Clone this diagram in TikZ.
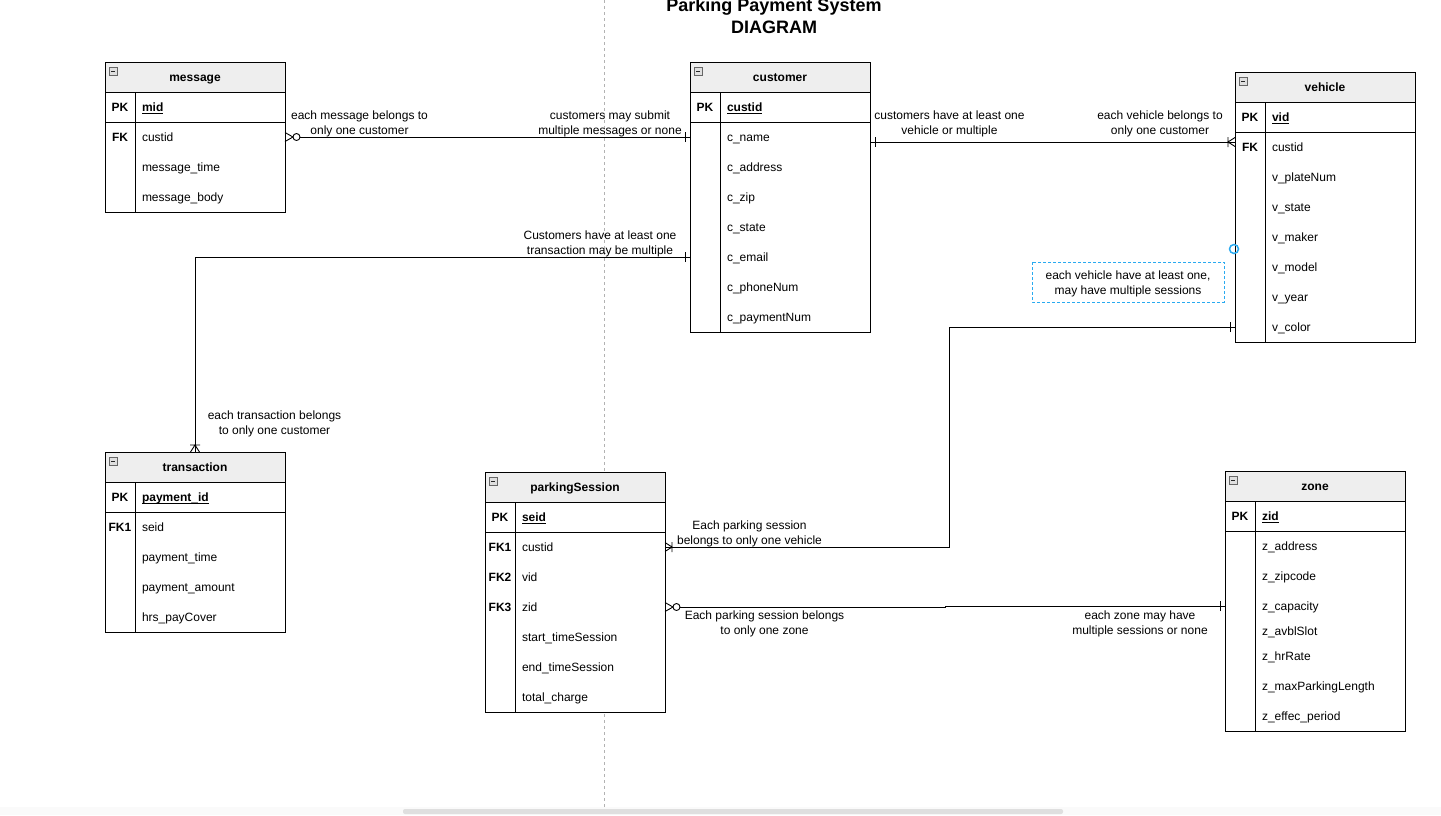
\documentclass[tikz,border=0pt]{standalone}
\usepackage{fontspec}
\setmainfont{Liberation Sans}
\definecolor{hdrfill}{RGB}{238,238,238}
\definecolor{selblue}{RGB}{41,170,240}
\newcommand\ulx[1]{\setbox0\hbox{#1}\rlap{\rule[-2.2pt]{\wd0}{0.8pt}}\box0}
\tikzset{
  every node/.style={font=\fontsize{12}{15}\selectfont, inner sep=0pt, outer sep=0pt},
  tabline/.style={draw=black, line width=0.9pt},
  tabbox/.style={tabline, fill=white, minimum width=180pt},
  tabhead/.style={tabline, fill=hdrfill, minimum width=180pt, minimum height=30pt,
     text height=10.2pt, text depth=2pt, font=\fontsize{12}{15}\selectfont\bfseries},
  pkrow/.style={tabline, minimum width=180pt, minimum height=30pt},
  keytxt/.style={text height=10.2pt, text depth=2pt, font=\fontsize{12}{15}\selectfont\bfseries},
  fieldtxt/.style={anchor=west, text height=10.2pt, text depth=2pt},
  pkfield/.style={fieldtxt, font=\fontsize{12}{15}\selectfont\bfseries},
  lbl/.style={align=center},
  conn/.style={draw=black, line width=0.9pt},
  icon/.style={draw=black!60, fill=gray!25, line width=0.7pt},
  iconminus/.style={draw=black!85, line width=0.9pt},
}
% table: name, x, y, height, title, pk field
\newcommand\ertab[6]{%
  \node[tabbox, minimum height=#4pt, anchor=north west] (#1) at (#2,#3) {};
  \node[tabhead, anchor=north west] (#1-h) at (#2,#3) {#5};
  \node[pkrow, anchor=north west] (#1-pk) at (#1-h.south west) {};
  \draw[tabline] ([xshift=30pt]#1-pk.north west) -- ([xshift=30pt]#1.south west);
  \node[keytxt] (#1-pkk) at ([xshift=15pt]#1-pk.west) {PK};
  \node[pkfield] (#1-pkf) at ([xshift=37pt]#1-pk.west) {\ulx{#6}};
  \draw[icon] ([xshift=4pt,yshift=-5pt]#1-h.north west) rectangle ++(8,8);
  \draw[iconminus] ([xshift=6pt,yshift=-9pt]#1-h.north west) -- ++(4,0);
}
% row: table, index, table x, y, key, text
\newcommand\erow[6]{%
  \node[fieldtxt] (#1-r#2) at (#3+37,#4) {#6};
  \node[keytxt] (#1-k#2) at (#3+15,#4) {#5};
}
% ER marks: point, angle (direction pointing away from the table)
\newcommand\ermone[2]{\draw[conn, shift={(#1)}, rotate=#2] (5,-5) -- (5,5);}
\newcommand\ermany[2]{\draw[conn, shift={(#1)}, rotate=#2] (0,-4.5) -- (7,0) -- (0,4.5) (7,-5) -- (7,5);}
\newcommand\erzeromany[2]{\draw[conn, shift={(#1)}, rotate=#2] (0,-4.5) -- (8,0) -- (0,4.5);
  \draw[conn, fill=white, shift={(#1)}, rotate=#2] (11.5,0) circle (3.5);}
\begin{document}
\begin{tikzpicture}[x=1pt, y=-1pt]
\useasboundingbox (0,0) rectangle (1441,815);
% page break line and scrollbar
\draw[gray!60, dash pattern=on 3pt off 3pt, line width=0.6pt] (604.5,0) -- (604.5,807);
\fill[gray!4] (0,807) rectangle (1441,815);
\fill[gray!25, rounded corners=2pt] (403,809) rectangle (1063,814);

% title
\node[align=center, font=\fontsize{18}{22}\selectfont\bfseries] (title) at (774,18)
  {\strut Parking Payment System\\\strut DIAGRAM};

% message
\ertab{message}{105}{62}{150}{message}{mid}
\erow{message}{1}{105}{137}{FK}{custid}
\erow{message}{2}{105}{167}{}{message\_time}
\erow{message}{3}{105}{197}{}{message\_body}

% customer
\ertab{customer}{690}{62}{270}{customer}{custid}
\erow{customer}{1}{690}{137}{}{c\_name}
\erow{customer}{2}{690}{167}{}{c\_address}
\erow{customer}{3}{690}{197}{}{c\_zip}
\erow{customer}{4}{690}{227}{}{c\_state}
\erow{customer}{5}{690}{257}{}{c\_email}
\erow{customer}{6}{690}{287}{}{c\_phoneNum}
\erow{customer}{7}{690}{317}{}{c\_paymentNum}

% vehicle
\ertab{vehicle}{1235}{72}{270}{vehicle}{vid}
\erow{vehicle}{1}{1235}{147}{FK}{custid}
\erow{vehicle}{2}{1235}{177}{}{v\_plateNum}
\erow{vehicle}{3}{1235}{207}{}{v\_state}
\erow{vehicle}{4}{1235}{237}{}{v\_maker}
\erow{vehicle}{5}{1235}{267}{}{v\_model}
\erow{vehicle}{6}{1235}{297}{}{v\_year}
\erow{vehicle}{7}{1235}{327}{}{v\_color}

% transaction
\ertab{transaction}{105}{452}{180}{transaction}{payment\_id}
\erow{transaction}{1}{105}{527}{FK1}{seid}
\erow{transaction}{2}{105}{557}{}{payment\_time}
\erow{transaction}{3}{105}{587}{}{payment\_amount}
\erow{transaction}{4}{105}{617}{}{hrs\_payCover}

% parkingSession
\ertab{parkingSession}{485}{472}{240}{parkingSession}{seid}
\erow{parkingSession}{1}{485}{547}{FK1}{custid}
\erow{parkingSession}{2}{485}{577}{FK2}{vid}
\erow{parkingSession}{3}{485}{607}{FK3}{zid}
\erow{parkingSession}{4}{485}{637}{}{start\_timeSession}
\erow{parkingSession}{5}{485}{667}{}{end\_timeSession}
\erow{parkingSession}{6}{485}{697}{}{total\_charge}

% zone
\ertab{zone}{1225}{471}{260}{zone}{zid}
\erow{zone}{1}{1225}{546}{}{z\_address}
\erow{zone}{2}{1225}{576}{}{z\_zipcode}
\erow{zone}{3}{1225}{606}{}{z\_capacity}
\erow{zone}{4}{1225}{631}{}{z\_avblSlot}
\erow{zone}{5}{1225}{656}{}{z\_hrRate}
\erow{zone}{6}{1225}{686}{}{z\_maxParkingLength}
\erow{zone}{7}{1225}{716}{}{z\_effec\_period}

% connectors
\coordinate (bendA) at (949,0);
\coordinate (bendB) at (945,0);

\draw[conn, shorten <=15pt] (message.east |- message-r1) -- (customer.west |- message-r1);
\erzeromany{message.east |- message-r1}{0}
\ermone{customer.west |- message-r1}{180}

\draw[conn] (customer.east |- 0,142) -- (vehicle.west |- 0,142);
\ermone{customer.east |- 0,142}{0}
\ermany{vehicle.west |- 0,142}{180}

\draw[conn] (customer.west |- customer-r5) -| (transaction.north);
\ermone{customer.west |- customer-r5}{180}
\ermany{transaction.north}{90}

\draw[conn] (vehicle.west |- vehicle-r7) -| (bendA |- parkingSession-r1) -- (parkingSession.east |- parkingSession-r1);
\ermone{vehicle.west |- vehicle-r7}{180}
\ermany{parkingSession.east |- parkingSession-r1}{0}

\draw[conn, shorten <=15pt] (parkingSession.east |- parkingSession-r3) -- (bendB |- parkingSession-r3)
   -- (bendB |- 0,606) -- (zone.west |- 0,606);
\erzeromany{parkingSession.east |- parkingSession-r3}{0}
\ermone{zone.west |- 0,606}{180}

% labels
\node[lbl] (l1) at (359.5,123.5) {\strut each message belongs to\\\strut only one customer};
\node[lbl] (l2) at (610,123.5) {\strut customers may submit\\\strut multiple messages or none};
\node[lbl] (l3) at (949.5,123.5) {\strut customers have at least one\\\strut vehicle or multiple};
\node[lbl] (l4) at (1160,123.5) {\strut each vehicle belongs to\\\strut only one customer};
\node[lbl] (l5) at (600,243.5) {\strut Customers have at least one\\\strut transaction may be multiple};
\node[lbl] (l6) at (274.5,423.5) {\strut each transaction belongs\\\strut to only one customer};
\draw[selblue, dash pattern=on 3pt off 2pt, line width=0.8pt] (1032,262) rectangle (1224,302);
\node[lbl] (l7) at (1128,283.5)
      {\strut each vehicle have at least one,\\\strut may have multiple sessions};
\node[lbl] (l8) at (749.5,533.5) {\strut Each parking session\\\strut belongs to only one vehicle};
\node[lbl] (l9) at (764.5,623.5) {\strut Each parking session belongs\\\strut to only one zone};
\node[lbl] (l10) at (1140,623.5) {\strut each zone may have\\\strut multiple sessions or none};

% rotate handle
\draw[selblue, line width=1.5pt] (1234,249) circle (4.5);
\end{tikzpicture}
\end{document}
